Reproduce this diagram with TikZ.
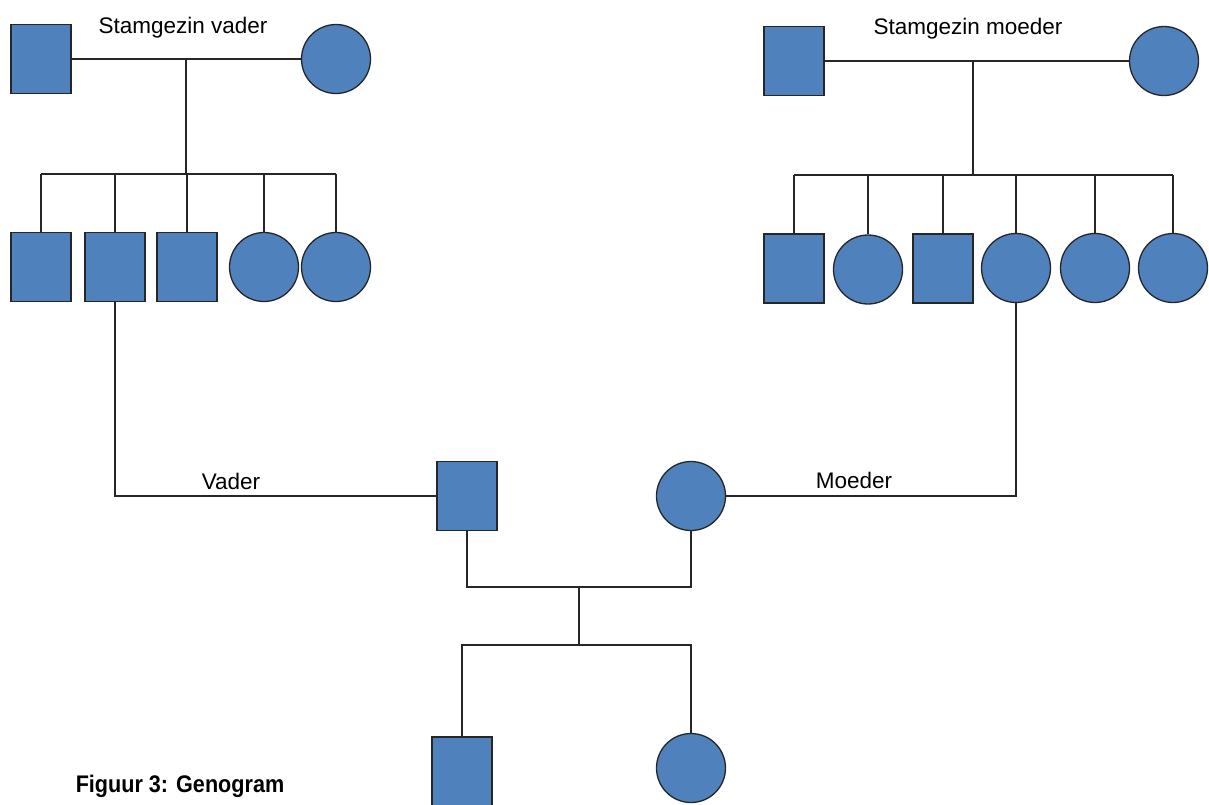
\documentclass[tikz,border=0pt]{standalone}
\usepackage{fontspec}
\setmainfont{Liberation Sans}
\definecolor{gblue}{HTML}{4F81BD}
\definecolor{gline}{HTML}{262626}
\begin{document}
\begin{tikzpicture}[x=1pt,y=-1pt,
  male/.style={draw=gline, fill=gblue, line width=1.3pt, rectangle, inner sep=0pt, minimum width=60pt, minimum height=69pt},
  female/.style={draw=gline, fill=gblue, line width=1.3pt, circle, inner sep=0pt, minimum size=69pt},
  link/.style={draw=gline, line width=1.3pt},
  lbl/.style={font=\fontsize{22.5}{26}\selectfont, anchor=base, inner sep=0pt},
  captext/.style={font=\fontsize{24}{28}\selectfont\bfseries, anchor=base, inner sep=0pt}]
\useasboundingbox (0,0) rectangle (1209,804);
\clip (0,0) rectangle (1209,804);

% grandparents father's side
\node[male]   (vgf) at (41,59) {};
\node[female] (vgm) at (336,59) {};
\node[lbl] (tv) at (183,33) {Stamgezin vader};
% grandparents mother's side
\node[male]   (mgf) at (794,61) {};
\node[female] (mgm) at (1164,61) {};
\node[lbl] (tm) at (968,34) {Stamgezin moeder};

% siblings father
\node[male]   (c1) at (41,267) {};
\node[male]   (c2) at (115,267) {};
\node[male]   (c3) at (187,267) {};
\node[female] (c4) at (264,267) {};
\node[female] (c5) at (336,267) {};
% siblings mother
\node[male]   (d1) at (794,268.5) {};
\node[female] (d2) at (868,269.5) {};
\node[male]   (d3) at (943,268.5) {};
\node[female] (d4) at (1016,268) {};
\node[female] (d5) at (1095,268) {};
\node[female] (d6) at (1173,268) {};

% parents
\node[male]   (fa) at (467,496) {};
\node[female] (mo) at (691,496) {};
\node[lbl] (tva) at (231,489) {Vader};
\node[lbl] (tmo) at (854,488) {Moeder};

% children
\node[male]   (son) at (462,771.5) {};
\node[female] (dau) at (691,768) {};

% caption
\node[captext] (cp) at (180,792) {\scalebox{0.9}[1]{Figuur 3: Genogram}};

% coordinates
\coordinate (vj) at (186,59);
\coordinate (vbar) at (186,174);
\coordinate (mj) at (973,61);
\coordinate (mbar) at (973,175);
\coordinate (cbar) at (579,587);
\coordinate (kbar) at (579,645);

% connectors father's family
\path[link] (vgf.east) -- (vgm.west);
\path[link] (vj) -- (vbar);
\path[link] (c1.north |- vbar) -- (c5.north |- vbar);
\foreach \n in {c1,c2,c3,c4,c5} {\path[link] (\n.north) -- (\n.north |- vbar);}
% connectors mother's family
\path[link] (mgf.east) -- (mgm.west);
\path[link] (mj) -- (mbar);
\path[link] (d1.north |- mbar) -- (d6.north |- mbar);
\foreach \n in {d1,d2,d3,d4,d5,d6} {\path[link] (\n.north) -- (\n.north |- mbar);}

% parents links
\path[link] (c2.south) |- (fa.west);
\path[link] (mo.east) -| (d4.south);
\path[link] (fa.south) |- (cbar) -| (mo.south);
\path[link] (cbar) -- (kbar);
\path[link] (son.north) |- (kbar) -| (dau.north);
\end{tikzpicture}
\end{document}
